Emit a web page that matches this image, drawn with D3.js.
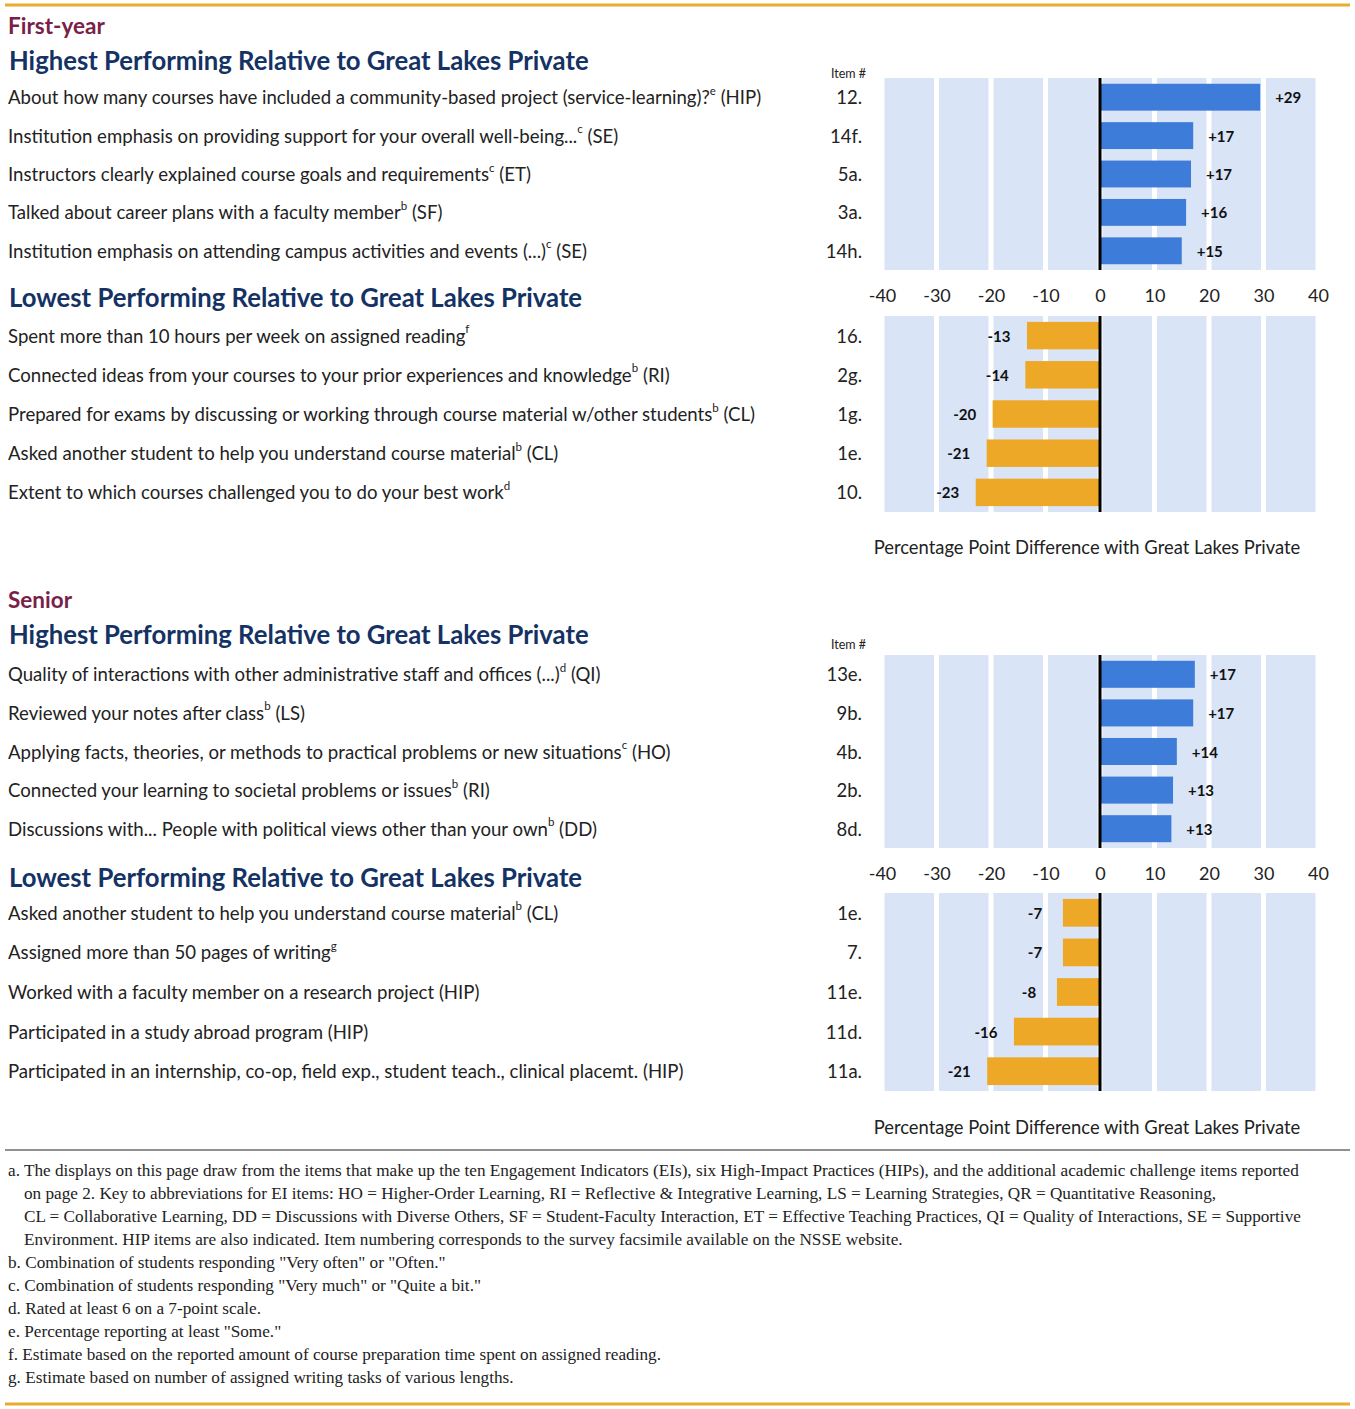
<!DOCTYPE html>
<html>
<head>
<meta charset="utf-8">
<script src="https://cdn.jsdelivr.net/npm/d3@7"></script>
<style>
  body { margin: 0; background: #fff; }
</style>
</head>
<body>
<svg id="chart"></svg>
<script>
// first-year, highest
const fyHighItems = ['12.', '14f.', '5a.', '3a.', '14h.']
const fyHighLabels = [
  ['About how many courses have included a community-based project (service-learning)?', 'e', ' (HIP)'],
  ['Institution emphasis on providing support for your overall well-being...', 'c', ' (SE)'],
  ['Instructors clearly explained course goals and requirements', 'c', ' (ET)'],
  ['Talked about career plans with a faculty member', 'b', ' (SF)'],
  ['Institution emphasis on attending campus activities and events (...)', 'c', ' (SE)']
]
const fyHighValues = [29.4, 17.1, 16.7, 15.8, 15.0]

// first-year, lowest
const fyLowItems = ['16.', '2g.', '1g.', '1e.', '10.']
const fyLowLabels = [
  ['Spent more than 10 hours per week on assigned reading', 'f', ''],
  ['Connected ideas from your courses to your prior experiences and knowledge', 'b', ' (RI)'],
  ['Prepared for exams by discussing or working through course material w/other students', 'b', ' (CL)'],
  ['Asked another student to help you understand course material', 'b', ' (CL)'],
  ['Extent to which courses challenged you to do your best work', 'd', '']
]
const fyLowValues = [-13.4, -13.7, -19.7, -20.8, -22.8]

// senior, highest
const srHighItems = ['13e.', '9b.', '4b.', '2b.', '8d.']
const srHighLabels = [
  ['Quality of interactions with other administrative staff and offices (...)', 'd', ' (QI)'],
  ['Reviewed your notes after class', 'b', ' (LS)'],
  ['Applying facts, theories, or methods to practical problems or new situations', 'c', ' (HO)'],
  ['Connected your learning to societal problems or issues', 'b', ' (RI)'],
  ['Discussions with... People with political views other than your own', 'b', ' (DD)']
]
const srHighValues = [17.4, 17.1, 14.1, 13.4, 13.1]

// senior, lowest
const srLowItems = ['1e.', '7.', '11e.', '11d.', '11a.']
const srLowLabels = [
  ['Asked another student to help you understand course material', 'b', ' (CL)'],
  ['Assigned more than 50 pages of writing', 'g', ''],
  ['Worked with a faculty member on a research project (HIP)', '', ''],
  ['Participated in a study abroad program (HIP)', '', ''],
  ['Participated in an internship, co-op, field exp., student teach., clinical placemt. (HIP)', '', '']
]
const srLowValues = [-6.8, -6.8, -7.9, -15.8, -20.7]

const xTicks = [-40, -30, -20, -10, 0, 10, 20, 30, 40]
const axisTitle = 'Percentage Point Difference with Great Lakes Private'
const highTitle = 'Highest Performing Relative to Great Lakes Private'
const lowTitle = 'Lowest Performing Relative to Great Lakes Private'

const footnotes = [
  'a. The displays on this page draw from the items that make up the ten Engagement Indicators (EIs), six High-Impact Practices (HIPs), and the additional academic challenge items reported',
  'on page 2. Key to abbreviations for EI items: HO = Higher-Order Learning, RI = Reflective & Integrative Learning, LS = Learning Strategies, QR = Quantitative Reasoning,',
  'CL = Collaborative Learning, DD = Discussions with Diverse Others, SF = Student-Faculty Interaction, ET = Effective Teaching Practices, QI = Quality of Interactions, SE = Supportive',
  'Environment. HIP items are also indicated. Item numbering corresponds to the survey facsimile available on the NSSE website.',
  'b. Combination of students responding "Very often" or "Often."',
  'c. Combination of students responding "Very much" or "Quite a bit."',
  'd. Rated at least 6 on a 7-point scale.',
  'e. Percentage reporting at least "Some."',
  'f. Estimate based on the reported amount of course preparation time spent on assigned reading.',
  'g. Estimate based on number of assigned writing tasks of various lengths.'
]

const W = 1355, H = 1409
const BLUE = '#3e7cd9', GOLD = '#eca826', PANEL = '#d9e4f6'
const NAVY = '#143264', MAROON = '#7a1f4a', RULE = '#e8ad2f'
const SANS = "Lato, 'Noto Sans', sans-serif"
const SERIF = "'Liberation Serif', 'Times New Roman', serif"

const svg = d3.select('#chart').attr('width', W).attr('height', H)
  .style('font-family', SANS)

const x = d3.scaleLinear().domain([-40, 40]).range([882, 1318])

// rules
svg.append('line').attr('x1', 5).attr('x2', 1350).attr('y1', 5).attr('y2', 5)
  .attr('stroke', RULE).attr('stroke-width', 3)
svg.append('line').attr('x1', 5).attr('x2', 1350).attr('y1', 1404).attr('y2', 1404)
  .attr('stroke', RULE).attr('stroke-width', 3)
svg.append('line').attr('x1', 5).attr('x2', 1350).attr('y1', 1150).attr('y2', 1150)
  .attr('stroke', '#222').attr('stroke-width', 1)

const addText = (txt, px, py, opts) => svg.append('text')
  .attr('x', px).attr('y', py)
  .attr('dominant-baseline', 'central')
  .attr('font-size', opts.size)
  .attr('font-weight', opts.weight || 'normal')
  .attr('fill', opts.fill || '#222')
  .attr('text-anchor', opts.anchor || 'start')
  .text(txt)

// section + group headings
addText('First-year', 8, 25, { size: 22.5, weight: 'bold', fill: MAROON })
addText(highTitle, 9, 60, { size: 25.7, weight: 'bold', fill: NAVY })
addText(lowTitle, 9, 297, { size: 25.7, weight: 'bold', fill: NAVY })
addText('Senior', 8, 599, { size: 22.5, weight: 'bold', fill: MAROON })
addText(highTitle, 9, 634, { size: 25.7, weight: 'bold', fill: NAVY })
addText(lowTitle, 9, 877, { size: 25.7, weight: 'bold', fill: NAVY })

const panels = [
  { items: fyHighItems, labels: fyHighLabels, values: fyHighValues, top: 78, bottom: 270, color: BLUE, header: 73, axis: true },
  { items: fyLowItems, labels: fyLowLabels, values: fyLowValues, top: 316, bottom: 512, color: GOLD, title: 547 },
  { items: srHighItems, labels: srHighLabels, values: srHighValues, top: 655, bottom: 848, color: BLUE, header: 644, axis: true },
  { items: srLowItems, labels: srLowLabels, values: srLowValues, top: 893, bottom: 1091, color: GOLD, title: 1127 }
]

panels.forEach(p => {
  const y = d3.scaleBand().domain(d3.range(p.values.length))
    .range([p.top, p.bottom]).paddingInner(0.3).paddingOuter(0.15)
  const mid = i => y(i) + y.bandwidth() / 2
  const g = svg.append('g')

  // background columns, white gap at each gridline
  g.selectAll('rect.col').data(d3.range(-40, 40, 10)).enter()
    .append('rect')
      .attr('class', 'col')
      .attr('x', d => x(d) + 2.5)
      .attr('width', d => x(d + 10) - x(d) - 5)
      .attr('y', p.top)
      .attr('height', p.bottom - p.top)
      .attr('fill', PANEL)

  g.selectAll('rect.bar').data(p.values).enter()
    .append('rect')
      .attr('class', 'bar')
      .attr('x', d => x(Math.min(0, d)))
      .attr('width', d => Math.abs(x(d) - x(0)))
      .attr('y', (d, i) => y(i))
      .attr('height', y.bandwidth())
      .attr('fill', p.color)

  g.append('line')
    .attr('x1', x(0)).attr('x2', x(0))
    .attr('y1', p.top).attr('y2', p.bottom)
    .attr('stroke', '#000').attr('stroke-width', 3)

  // value labels
  g.selectAll('text.val').data(p.values).enter()
    .append('text')
      .attr('class', 'val')
      .attr('x', d => x(d) + (d > 0 ? 28 : -28))
      .attr('y', (d, i) => mid(i))
      .attr('dominant-baseline', 'central')
      .attr('text-anchor', 'middle')
      .attr('font-size', 15)
      .attr('font-weight', 'bold')
      .attr('fill', '#111')
      .text(d => (d > 0 ? '+' : '') + Math.round(d))

  // item numbers
  g.selectAll('text.item').data(p.items).enter()
    .append('text')
      .attr('class', 'item')
      .attr('x', 862)
      .attr('y', (d, i) => mid(i))
      .attr('dominant-baseline', 'central')
      .attr('text-anchor', 'end')
      .attr('font-size', 18.5)
      .attr('fill', '#222')
      .text(d => d)

  // row labels with footnote superscripts
  g.selectAll('text.lab').data(p.labels).enter()
    .append('text')
      .attr('class', 'lab')
      .attr('x', 8)
      .attr('y', (d, i) => mid(i))
      .attr('dominant-baseline', 'central')
      .attr('font-size', 18.6)
      .attr('fill', '#222')
      .each(function (d) {
        const t = d3.select(this)
        t.append('tspan').text(d[0])
        if (d[1]) {
          t.append('tspan').attr('font-size', 11.5).attr('dy', -7.5).text(d[1])
          if (d[2]) t.append('tspan').attr('dy', 7.5).text(d[2])
        }
      })

  if (p.header) {
    addText('Item #', 866, p.header, { size: 12.5, anchor: 'end' })
  }
  if (p.axis) {
    const ax = svg.append('g')
      .attr('transform', `translate(0,${p.bottom})`)
      .call(d3.axisBottom(x).tickValues(xTicks).tickSize(0).tickPadding(19).tickFormat(d => String(d)))
    ax.select('.domain').remove()
    ax.selectAll('text').attr('font-size', 18).attr('fill', '#222')
      .style('font-family', SANS)
  }
  if (p.title) {
    addText(axisTitle, 1087, p.title, { size: 18.4, anchor: 'middle' })
  }
})

// footnotes
svg.append('g').selectAll('text').data(footnotes).enter()
  .append('text')
    .attr('x', d => /^[a-g]\. /.test(d) ? 8 : 24)
    .attr('y', (d, i) => 1170 + i * 23)
    .attr('dominant-baseline', 'central')
    .style('font-family', SERIF)
    .attr('font-size', 17.2)
    .attr('fill', '#222')
    .text(d => d)
</script>
</body>
</html>
